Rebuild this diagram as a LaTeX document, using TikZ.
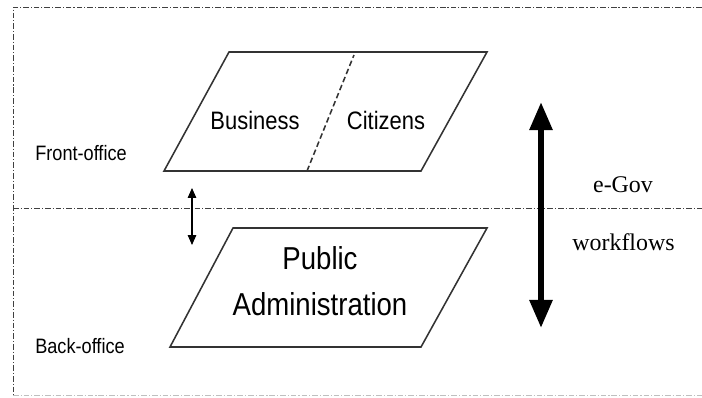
\documentclass[tikz,border=0pt]{standalone}
\usepackage{fontspec}
\usepackage{graphicx}
\setmainfont{Liberation Serif}
\setsansfont{Liberation Sans}
\usetikzlibrary{arrows.meta}
\newcommand{\tall}[1]{\scalebox{1}[1.15]{#1}}
\tikzset{
	frameline/.style = {draw=black!75, line width=0.7pt,
		dash pattern=on 4pt off 1.4pt on 0.8pt off 1.4pt},
	plane/.style = {draw=black!80, line width=1.1pt},
	office/.style = {anchor=base, inner sep=0pt, font=\sffamily\fontsize{12.9}{15}\selectfont},
	actor/.style = {anchor=base, inner sep=0pt, font=\sffamily\fontsize{15.6}{18}\selectfont},
	flow/.style = {anchor=base, inner sep=0pt, font=\rmfamily\fontsize{17}{20}\selectfont}
}
\begin{document}
\begin{tikzpicture}[x=0.025cm,y=-0.025cm]
	\useasboundingbox (0,0) rectangle (702,397);
	\draw[frameline] (702,7) -- (13,7) -- (13,395);
	\draw[frameline, draw=black!25] (13,395) -- (702,395);
	\draw[frameline] (13,208) -- (702,208);

	\draw[plane] (229,52) -- (487,52) -- (421,171) -- (164,171) -- cycle;
	\draw[plane, dash pattern=on 4pt off 2.2pt] (307,171) -- (354,55);
	\draw[plane] (233,228) -- (487,228) -- (421,347) -- (170,347) -- cycle;

	\node[actor] (business) at (255,129) {\tall{Business}};
	\node[actor] (citizens) at (386,129) {\tall{Citizens}};
	\node[anchor=base, inner sep=0pt, align=center,
		font=\sffamily\fontsize{19.6}{32.7}\selectfont] (public) at (320,315)
		{\tall{Public}\\\tall{Administration}};

	\node[office] (front) at (81,160) {\tall{Front-office}};
	\node[office] (back) at (80,353) {\tall{Back-office}};

	\node[flow] (egov) at (623,192) {e-Gov};
	\node[flow] (workflows) at (623.5,250) {workflows};

	\coordinate (link top) at (192,188);
	\coordinate (link bottom) at (192,245);
	\draw[line width=0.8pt, {Triangle[length=7pt,width=6pt]}-{Triangle[length=7pt,width=6pt]}]
		(link top) -- (link bottom);

	\coordinate (flow top) at (541,102);
	\coordinate (flow bottom) at (541,328);
	\draw[line width=4.3pt, {Triangle[length=20pt,width=15.6pt]}-{Triangle[length=20pt,width=15.6pt]}]
		(flow top) -- (flow bottom);
\end{tikzpicture}
\end{document}
